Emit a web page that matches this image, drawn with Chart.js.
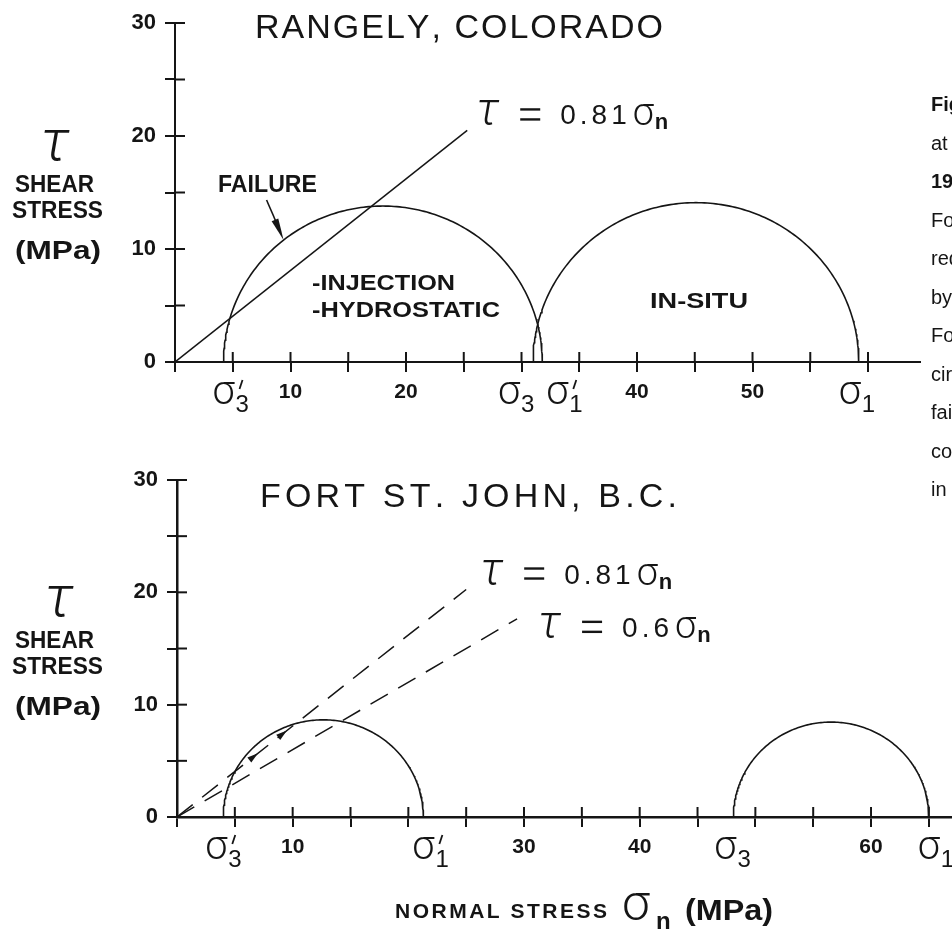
<!DOCTYPE html>
<html>
<head>
<meta charset="utf-8">
<title>Mohr circles – Rangely and Fort St. John</title>
<script src="https://cdn.jsdelivr.net/npm/chart.js@4.4.1/dist/chart.umd.min.js"></script>
<style>
  html, body { margin: 0; padding: 0; background: #fff; }
  #page { position: relative; width: 952px; height: 930px; overflow: hidden; background: #fff; }
  #page canvas { position: absolute; left: 0; top: 0; }
</style>
</head>
<body>
<div id="page">
  <canvas id="rangely" width="952" height="930"></canvas>
  <canvas id="fortStJohn" width="952" height="930"></canvas>
</div>
<script>
// ---- Mohr circles: principal effective stresses (MPa) ----
const rangelyCircleNames = ['Injection - hydrostatic', 'In-situ'];
const rangelySigma3 = [4.2, 31.0];
const rangelySigma1 = [31.8, 59.2];

const fortCircleNames = ['Injection', 'In-situ'];
const fortSigma3 = [4.0, 48.1];
const fortSigma1 = [21.3, 65.0];

// ---- Failure envelopes tau = mu * sigma_n, drawn out to sigma_n = end ----
const rangelyFrictionCoef = [0.81];
const rangelyEnvelopeEnd = [25.3];
const fortFrictionCoef = [0.81, 0.6];
const fortEnvelopeEnd = [25.0, 29.4];

// ---- Tick labels ----
const shearTickLabels = [0, 10, 20, 30];
const rangelyNormalTickLabels = [10, 20, 40, 50];
const fortNormalTickLabels = [10, 30, 40, 60];

// ---- Principal-stress labels on the normal-stress axis ----
const rangelySigmaLabels = ["σ3'", 'σ3', "σ1'", 'σ1'];
const rangelySigmaValues = [4.2, 31.0, 31.8, 59.2];
const fortSigmaLabels = ["σ3'", "σ1'", 'σ3', 'σ1'];
const fortSigmaValues = [4.0, 21.3, 48.1, 65.0];

// ---- Caption column (runs off the right edge) ----
const captionLines = ['Fig. 4.', 'at Rangely, Colorado', '1984).', 'For Rangely the', 'reduced effective', 'by water injection.', 'Fort St. John the', 'circle for the', 'failure envelope', 'coefficient of', 'in situ stresses.'];
const captionBold = [true, false, true, false, false, false, false, false, false, false, false];

const INK = '#151515';
const SANS = '"Liberation Sans", Arial, Helvetica, sans-serif';
const GREEK = 'Roboto, "DejaVu Sans", sans-serif';

// upper half of a Mohr circle through sigma3 and sigma1
function mohrArc(s3, s1) {
  const c = (s1 + s3) / 2, r = (s1 - s3) / 2, pts = [];
  for (let i = 0; i <= 180; i++) {
    const a = Math.PI * (1 - i / 180);
    pts.push({ x: c + r * Math.cos(a), y: r * Math.sin(a) });
  }
  return pts;
}
function mohrTau(s3, s1, s) {
  const c = (s1 + s3) / 2, r = (s1 - s3) / 2;
  return Math.sqrt(Math.max(r * r - (s - c) * (s - c), 0));
}

// text spread out to fill a given width
function spaced(ctx, text, x, y, width, font) {
  ctx.font = font; ctx.textAlign = 'left'; ctx.textBaseline = 'alphabetic';
  const chars = [...text];
  const w = chars.map(c => ctx.measureText(c).width);
  const total = w.reduce((a, b) => a + b, 0);
  const gap = chars.length > 1 ? (width - total) / (chars.length - 1) : 0;
  let cx = x;
  chars.forEach((c, i) => { ctx.fillText(c, cx, y); cx += w[i] + gap; });
}
// text squeezed horizontally to a given width
function squeezed(ctx, text, x, y, width, font) {
  ctx.font = font; ctx.textAlign = 'left'; ctx.textBaseline = 'alphabetic';
  const w = ctx.measureText(text).width;
  ctx.save(); ctx.translate(x, y); ctx.scale(width / w, 1); ctx.fillText(text, 0, 0); ctx.restore();
}
function seg(ctx, x1, y1, x2, y2, lw) {
  ctx.lineWidth = lw; ctx.beginPath(); ctx.moveTo(x1, y1); ctx.lineTo(x2, y2); ctx.stroke();
}
function arrowHead(ctx, tx, ty, fx, fy, len, half) {
  const a = Math.atan2(ty - fy, tx - fx), c = Math.cos(a), s = Math.sin(a);
  ctx.beginPath();
  ctx.moveTo(tx, ty);
  ctx.lineTo(tx - len * c + half * s, ty - len * s - half * c);
  ctx.lineTo(tx - len * c - half * s, ty - len * s + half * c);
  ctx.closePath(); ctx.fill();
}

// sigma with subscript (and optional prime) centred on cx
function sigmaLabel(ctx, cx, top, label) {
  const sub = label.charAt(1), prime = label.endsWith("'");
  const base = top + 21;
  ctx.textBaseline = 'alphabetic'; ctx.textAlign = 'center';
  ctx.font = `300 40px ${GREEK}`;
  ctx.fillText('σ', cx, base);
  ctx.textAlign = 'left';
  ctx.font = `24px ${SANS}`;
  ctx.fillText(sub, cx + 12, base + 8);
  if (prime) seg(ctx, cx + 19, top - 3, cx + 16, top + 6, 1.8);
}

// "τ = k σn" written next to the end of an envelope
function envelopeLabel(ctx, x0, base, coef) {
  ctx.textBaseline = 'alphabetic'; ctx.textAlign = 'left';
  ctx.font = `italic 300 46px ${GREEK}`;
  ctx.fillText('τ', x0 - 2, base + 1);
  seg(ctx, x0 + 42, base - 15, x0 + 62, base - 15, 2.4);
  seg(ctx, x0 + 42, base - 5, x0 + 62, base - 5, 2.4);
  ctx.font = `28px ${SANS}`;
  let cx = x0 + 82;
  for (const ch of String(coef)) { ctx.fillText(ch, cx, base); cx += ctx.measureText(ch).width + 4; }
  cx += 2;
  ctx.font = `300 38px ${GREEK}`;
  ctx.fillText('σ', cx, base + 1);
  cx += ctx.measureText('σ').width + 1;
  ctx.font = `bold 22px ${SANS}`;
  ctx.fillText('n', cx, base + 5);
}

// τ / SHEAR / STRESS / (MPa) block left of the shear axis
function shearAxisTitle(ctx, y20, tauX) {
  ctx.textBaseline = 'alphabetic'; ctx.textAlign = 'center';
  ctx.font = `italic 300 58px ${GREEK}`;
  ctx.fillText('τ', tauX, y20 + 24);
  squeezed(ctx, 'SHEAR', 15, y20 + 56, 79, `bold 24px ${SANS}`);
  squeezed(ctx, 'STRESS', 12, y20 + 82, 91, `bold 24px ${SANS}`);
  squeezed(ctx, '(MPa)', 15, y20 + 123, 86, `bold 25px ${SANS}`);
}

// tick marks cross the axes: draw the inner halves
function innerTicks(ctx, xs, ys, area) {
  ctx.strokeStyle = INK;
  xs.ticks.forEach(t => { const p = xs.getPixelForValue(t.value); seg(ctx, p, area.bottom, p, area.bottom - 10, 2); });
  ys.ticks.forEach(t => { const p = ys.getPixelForValue(t.value); seg(ctx, area.left, p, area.left + 10, p, 2); });
}

function decor(id, drawFn) {
  return {
    id,
    afterDraw(chart) {
      const ctx = chart.ctx;
      ctx.save();
      ctx.fillStyle = INK; ctx.strokeStyle = INK;
      innerTicks(ctx, chart.scales.x, chart.scales.y, chart.chartArea);
      drawFn(ctx, chart.scales.x, chart.scales.y, chart.chartArea);
      ctx.restore();
    }
  };
}

function buildChart(canvas, cfg) {
  const datasets = [];
  cfg.sigma3.forEach((s3, i) => datasets.push({
    label: cfg.circleNames[i], data: mohrArc(s3, cfg.sigma1[i]),
    showLine: true, borderColor: INK, borderWidth: 1.6, pointRadius: 0, tension: 0, fill: false
  }));
  cfg.coef.forEach((mu, i) => datasets.push({
    label: 'τ = ' + mu + ' σn', data: [{ x: 0, y: 0 }, { x: cfg.envEnd[i], y: mu * cfg.envEnd[i] }],
    showLine: true, borderColor: INK, borderWidth: 1.5, borderDash: cfg.dashed ? [20, 12] : [],
    pointRadius: 0, fill: false
  }));
  const axisCommon = () => ({
    type: 'linear',
    border: { display: true, color: INK, width: cfg.axisWidth },
    grid: { display: true, drawOnChartArea: false, drawTicks: true, tickLength: 10, color: INK, lineWidth: 2, tickWidth: 2 },
  });
  return new Chart(canvas, {
    type: 'scatter',
    data: { datasets },
    options: {
      responsive: false, animation: false, devicePixelRatio: 1,
      layout: { padding: { top: cfg.areaTop, right: 952 - cfg.areaRight, left: 0, bottom: 0 } },
      plugins: { legend: { display: false }, tooltip: { enabled: false }, title: { display: false } },
      scales: {
        x: Object.assign(axisCommon(), {
          min: 0, max: cfg.xMax, position: 'bottom',
          afterFit: s => { s.height = 930 - cfg.areaBottom; },
          ticks: {
            stepSize: 5, autoSkip: false, includeBounds: false, maxRotation: 0, minRotation: 0,
            padding: 8, color: INK, font: { family: SANS, size: 21, weight: 'bold' },
            callback: v => cfg.xLabels.includes(v) ? String(v) : ''
          }
        }),
        y: Object.assign(axisCommon(), {
          min: 0, max: 30, position: 'left',
          afterFit: s => { s.width = cfg.areaLeft; },
          ticks: {
            stepSize: 5, autoSkip: false, padding: 9, color: INK, font: { family: SANS, size: 22, weight: 'bold' },
            callback: v => shearTickLabels.includes(v) ? String(v) : ''
          }
        })
      }
    },
    plugins: [decor(cfg.id, cfg.draw)]
  });
}

// ---------- Rangely, Colorado ----------
buildChart(document.getElementById('rangely'), {
  id: 'rangelyDecor',
  sigma3: rangelySigma3, sigma1: rangelySigma1, circleNames: rangelyCircleNames,
  coef: rangelyFrictionCoef, envEnd: rangelyEnvelopeEnd, dashed: false,
  xLabels: rangelyNormalTickLabels, xMax: 64.5, axisWidth: 2,
  areaLeft: 175, areaTop: 23, areaBottom: 362, areaRight: 920,
  draw(ctx, xs, ys, area) {
    spaced(ctx, 'RANGELY, COLORADO', 255, 38, 408, `34px ${SANS}`);
    shearAxisTitle(ctx, ys.getPixelForValue(20), 55);

    const nudge = [0, -24, 15, -9];
    rangelySigmaLabels.forEach((lab, i) =>
      sigmaLabel(ctx, xs.getPixelForValue(rangelySigmaValues[i]) + nudge[i], area.bottom + 21, lab));

    const endX = xs.getPixelForValue(rangelyEnvelopeEnd[0]);
    const endY = ys.getPixelForValue(rangelyFrictionCoef[0] * rangelyEnvelopeEnd[0]);
    envelopeLabel(ctx, endX + 11, endY - 6, rangelyFrictionCoef[0]);

    // FAILURE arrow onto the injection circle
    squeezed(ctx, 'FAILURE', 218, 192, 99, `bold 23px ${SANS}`);
    const sTip = 9.4;
    const tipX = xs.getPixelForValue(sTip);
    const tipY = ys.getPixelForValue(mohrTau(rangelySigma3[0], rangelySigma1[0], sTip));
    seg(ctx, tipX - 17, tipY - 40, tipX - 4, tipY - 10, 1.6);
    arrowHead(ctx, tipX, tipY, tipX - 17, tipY - 40, 22, 3.6);

    squeezed(ctx, '-INJECTION', 312, 290, 143, `bold 22px ${SANS}`);
    squeezed(ctx, '-HYDROSTATIC', 312, 317, 188, `bold 22px ${SANS}`);
    squeezed(ctx, 'IN-SITU', 650, 308, 98, `bold 22px ${SANS}`);

    // caption column
    captionLines.forEach((t, i) => {
      ctx.font = (captionBold[i] ? 'bold ' : '') + `20px ${SANS}`;
      ctx.textAlign = 'left';
      ctx.fillText(t, 931, 111 + i * 38.5);
    });
  }
});

// ---------- Fort St. John, B.C. ----------
buildChart(document.getElementById('fortStJohn'), {
  id: 'fortDecor',
  sigma3: fortSigma3, sigma1: fortSigma1, circleNames: fortCircleNames,
  coef: fortFrictionCoef, envEnd: fortEnvelopeEnd, dashed: true,
  xLabels: fortNormalTickLabels, xMax: 67, axisWidth: 2.5,
  areaLeft: 177, areaTop: 480, areaBottom: 817, areaRight: 952,
  draw(ctx, xs, ys, area) {
    spaced(ctx, 'FORT ST. JOHN, B.C.', 260, 507, 417, `34px ${SANS}`);
    shearAxisTitle(ctx, ys.getPixelForValue(20), 59);

    const nudge = [-7, 0, -8, 0];
    fortSigmaLabels.forEach((lab, i) =>
      sigmaLabel(ctx, xs.getPixelForValue(fortSigmaValues[i]) + nudge[i], area.bottom + 21, lab));

    const labelOffsets = [[16, -6], [23, 18]];
    fortFrictionCoef.forEach((mu, i) => {
      const ex = xs.getPixelForValue(fortEnvelopeEnd[i]);
      const ey = ys.getPixelForValue(mu * fortEnvelopeEnd[i]);
      envelopeLabel(ctx, ex + labelOffsets[i][0], ey + labelOffsets[i][1], mu);
    });

    // small arrowheads along the steeper envelope near the injection circle
    const mu = fortFrictionCoef[0];
    [7.0, 9.5].forEach(s => {
      const tx = xs.getPixelForValue(s), ty = ys.getPixelForValue(mu * s);
      const fx = xs.getPixelForValue(s - 1), fy = ys.getPixelForValue(mu * (s - 1));
      arrowHead(ctx, tx, ty, fx, fy, 11, 3.2);
    });

    // normal-stress axis title
    spaced(ctx, 'NORMAL STRESS', 395, 918, 212, `bold 21px ${SANS}`);
    ctx.font = `300 50px ${GREEK}`;
    ctx.fillText('σ', 622, 920);
    ctx.font = `bold 24px ${SANS}`;
    ctx.fillText('n', 656, 929);
    squeezed(ctx, '(MPa)', 685, 920, 88, `bold 29px ${SANS}`);
  }
});
</script>
</body>
</html>
